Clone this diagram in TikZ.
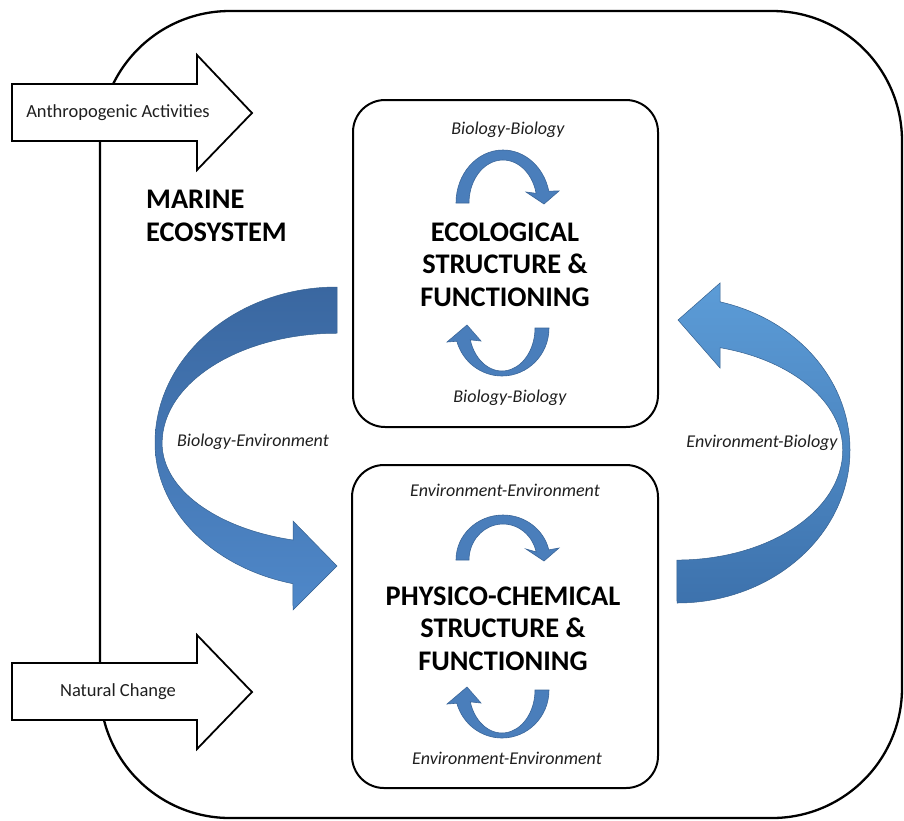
\documentclass[tikz,border=0pt]{standalone}
\usepackage{fontspec}
\setmainfont{Carlito}
\usetikzlibrary{calc}
\definecolor{smallblue}{HTML}{4A7EBB}
\definecolor{smalledge}{HTML}{3B6699}
\definecolor{leftTop}{HTML}{3A67A0}
\definecolor{leftBot}{HTML}{4F88C9}
\definecolor{rightTop}{HTML}{5C9CD7}
\definecolor{rightBot}{HTML}{3D72AD}
\definecolor{bigedge}{HTML}{35608F}
\tikzset{
  frameline/.style={draw=black, line width=2.3pt, rounded corners=130pt, inner sep=0pt, outer sep=0pt},
  boxline/.style={draw=black, fill=white, line width=2pt, rounded corners=32pt, inner sep=0pt, outer sep=0pt},
  blockarrow/.style={draw=black, fill=white, line width=1.8pt, line join=miter},
  smallarrow/.style={fill=smallblue, draw=smalledge, line width=0.6pt},
  lbl/.style={font=\itshape\fontsize{18}{21}\selectfont, text=black!88, inner sep=0pt},
  extlbl/.style={font=\fontsize{18.5}{22}\selectfont, text=black!88, inner sep=0pt},
  title/.style={font=\bfseries\fontsize{28.4}{32.5}\selectfont, align=center, inner sep=0pt}
}
% cap-shaped arrow: centre x, centre y, outer y radius, inner y radius
\newcommand\capArrow[4]{%
  \begin{scope}[shift={(#1,#2)}]
    \path[smallarrow] (-47,0) arc[start angle=180,end angle=347,x radius=47,y radius=#3]
      -- (56,-12) -- (41,1) -- (23,-11) -- (347:34 and #4)
      arc[start angle=347,end angle=180,x radius=34,y radius=#4] -- cycle;
  \end{scope}}
% cup-shaped arrow: centre x, centre y, outer y radius, inner y radius
\newcommand\cupArrow[4]{%
  \begin{scope}[shift={(#1,#2)}]
    \path[smallarrow] (47,0) arc[start angle=0,end angle=164,x radius=47,y radius=#3]
      -- (-55,14) -- (-35,-3) -- (-21,13) -- (164:33 and #4)
      arc[start angle=164,end angle=0,x radius=33,y radius=#4] -- cycle;
  \end{scope}}
\begin{document}
\begin{tikzpicture}[x=1pt,y=-1pt]
\useasboundingbox (0,0) rectangle (904,820);

% outer frame
\node[frameline, minimum width=802pt, minimum height=807pt] (frame) at (501,414.5) {};

% external drivers
\draw[blockarrow] (12,84) -- (197,84) -- (197,55) -- (252,113) -- (197,170) -- (197,141) -- (12,141) -- cycle;
\node[extlbl] (anth) at (118,113) {Anthropogenic Activities};
\draw[blockarrow] (12,663) -- (197,663) -- (197,635) -- (252,692) -- (197,749) -- (197,720) -- (12,720) -- cycle;
\node[extlbl] (nat) at (118,692) {Natural Change};

% marine ecosystem label
\node[title, anchor=west, align=left] (marine) at (146,216) {MARINE\\ECOSYSTEM};

% boxes
\node[boxline, minimum width=305pt, minimum height=327pt] (eco) at (505.5,263.5) {};
\node[boxline, minimum width=306pt, minimum height=323pt] (phys) at (505,626.5) {};

\node[title] (ecotitle) at (505,264.5) {ECOLOGICAL\\STRUCTURE \&\\FUNCTIONING};
\node[title] (phystitle) at (503,628.5) {PHYSICO-CHEMICAL\\STRUCTURE \&\\FUNCTIONING};

\node[lbl] (bb1) at (508,130) {Biology-Biology};
\node[lbl] (bb2) at (510,398) {Biology-Biology};
\node[lbl] (ee1) at (505,490) {Environment-Environment};
\node[lbl] (ee2) at (507,758) {Environment-Environment};

% small circular arrows
\capArrow{503}{203}{53}{43}
\cupArrow{502}{328}{48}{43}
\capArrow{503}{560}{45}{36}
\cupArrow{502}{690}{48}{43}

% big left arrow: Biology -> Environment
\shade[top color=leftTop, bottom color=leftBot, draw=bigedge, line width=0.5pt]
  (337,287) arc[start angle=270,end angle=180,x radius=182,y radius=156]
  arc[start angle=180,end angle=104,x radius=182,y radius=145]
  -- (293,610) -- (337,566) -- (293,521) -- (293,540)
  arc[start angle=104.6,end angle=180,x radius=175,y radius=100]
  arc[start angle=180,end angle=270,x radius=175,y radius=110] -- cycle;
\node[lbl] (be) at (253,442) {Biology-Environment};

% big right arrow: Environment -> Biology
\shade[top color=rightTop, bottom color=rightBot, draw=bigedge, line width=0.5pt]
  (677,603) arc[start angle=90,end angle=0,x radius=173,y radius=153]
  arc[start angle=0,end angle=-75.6,x radius=173,y radius=153]
  -- (720,283) -- (678,320) -- (720,368) -- (720,347.7)
  arc[start angle=-74.9,end angle=0,x radius=166,y radius=106]
  arc[start angle=0,end angle=90,x radius=166,y radius=110] -- cycle;
\node[lbl] (eb) at (762,443) {Environment-Biology};
\end{tikzpicture}
\end{document}
